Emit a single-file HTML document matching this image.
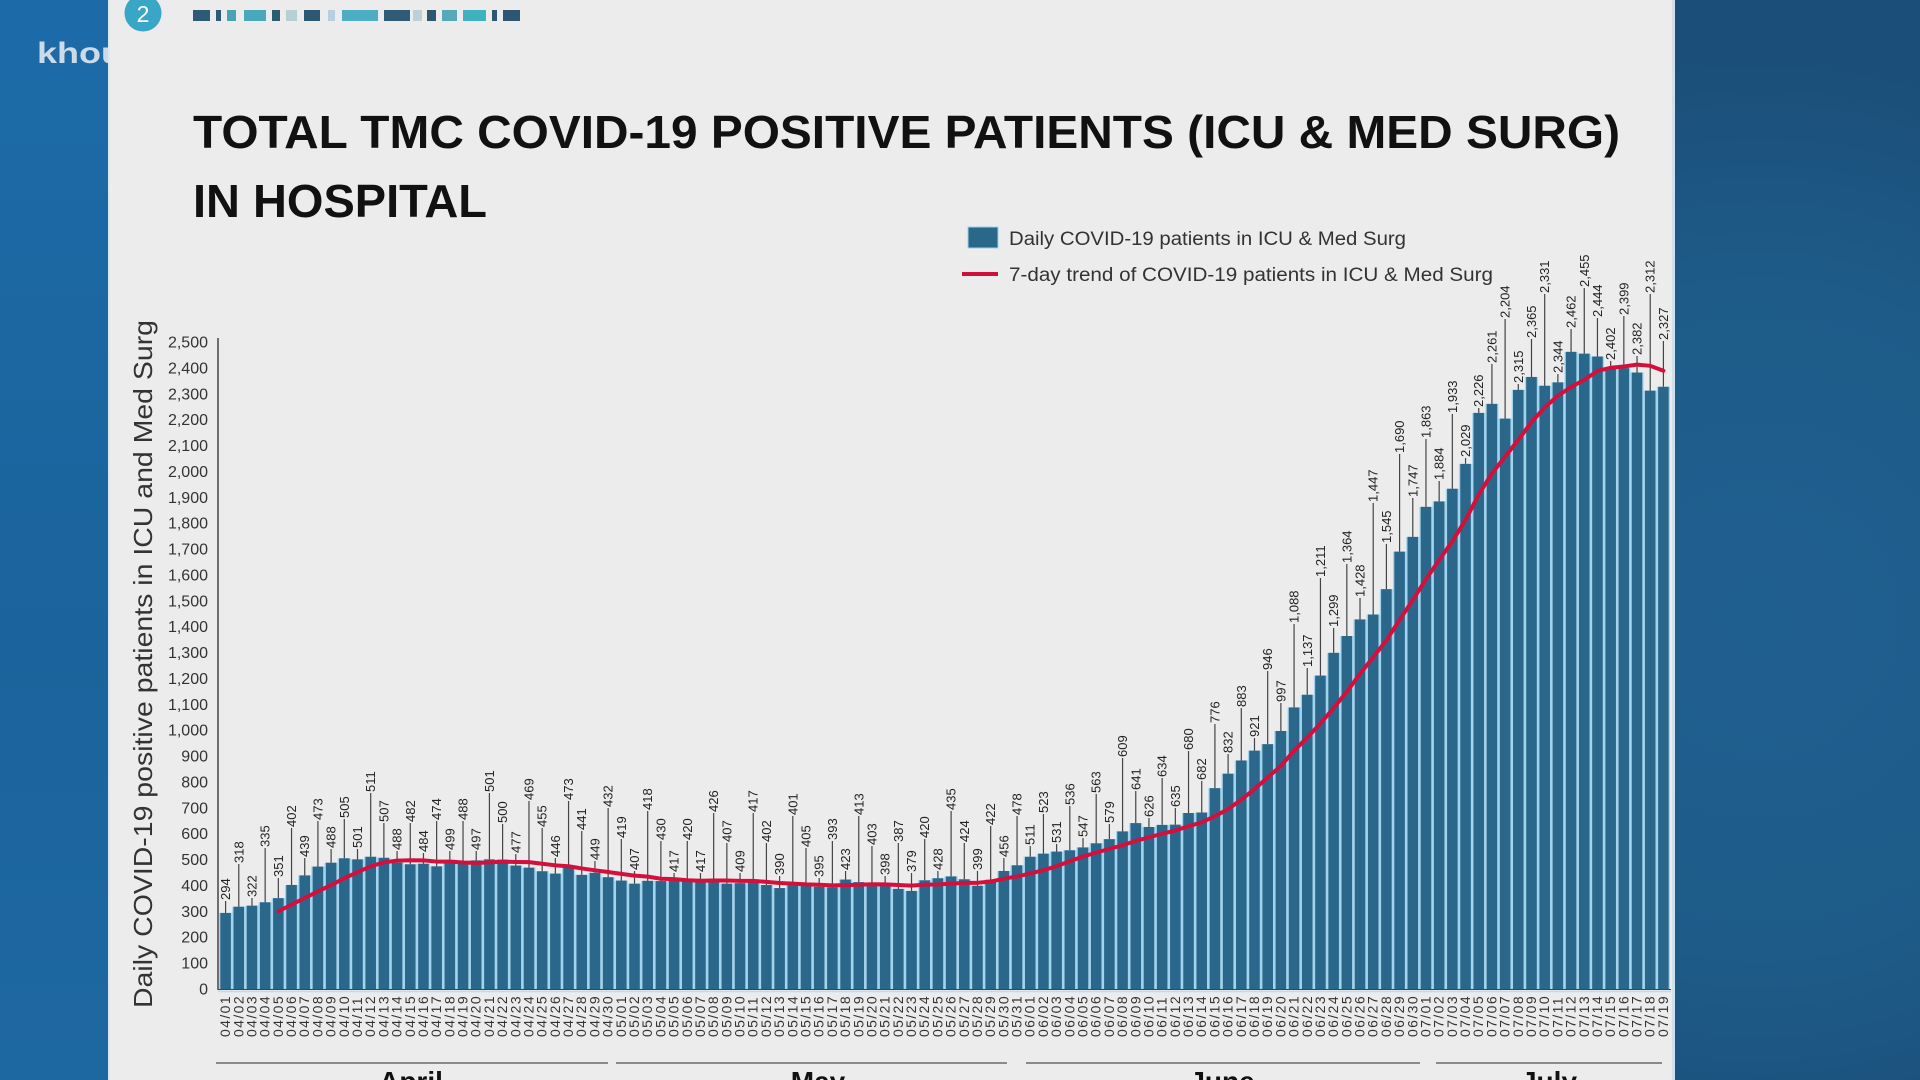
<!DOCTYPE html>
<html>
<head>
<meta charset="utf-8">
<style>
html,body{margin:0;padding:0;width:1920px;height:1080px;overflow:hidden;background:#1c5f94;}
svg{display:block;}
.t{font-family:"Liberation Sans",sans-serif;}
.dl{font-family:"Liberation Sans",sans-serif;font-size:13px;fill:#222;}
.dt{font-family:"Liberation Sans",sans-serif;font-size:14px;letter-spacing:1.4px;fill:#333;}
.yt{font-family:"Liberation Sans",sans-serif;font-size:16px;fill:#333;text-anchor:end;}
</style>
</head>
<body>
<svg width="1920" height="1080" viewBox="0 0 1920 1080" xmlns="http://www.w3.org/2000/svg">
<defs>
<linearGradient id="lg" x1="0" y1="0" x2="0" y2="1">
<stop offset="0" stop-color="#1c6ba8"/>
<stop offset="0.6" stop-color="#1b639c"/>
<stop offset="1" stop-color="#1e68a2"/>
</linearGradient>
<radialGradient id="rg" cx="1760" cy="620" r="560" gradientUnits="userSpaceOnUse">
<stop offset="0" stop-color="#1f5f90"/>
<stop offset="0.6" stop-color="#1e5b89"/>
<stop offset="1" stop-color="#1b4f79"/>
</radialGradient>
</defs>
<rect x="0" y="0" width="110" height="1080" fill="url(#lg)"/>
<rect x="1672" y="0" width="248" height="1080" fill="url(#rg)"/>
<text class="t" x="37" y="63" font-size="30" font-weight="bold" fill="#cddbe8" textLength="86" lengthAdjust="spacingAndGlyphs">khou</text>
<rect x="108" y="0" width="1567" height="1080" fill="#ececec"/>
<rect x="1672" y="0" width="3" height="1080" fill="#cfe1ee"/>
<rect x="108" y="0" width="2" height="1080" fill="#dfe8ef"/>

<!-- badge -->
<circle cx="143" cy="13" r="18.5" fill="#3aa6c7"/>
<text class="t" x="143" y="22" font-size="23" fill="#ffffff" text-anchor="middle">2</text>
<!-- pattern strip -->
<g>
<rect x="193" y="10" width="17" height="11" fill="#2d5a76"/>
<rect x="216" y="10" width="5" height="11" fill="#2d5a76"/>
<rect x="227" y="10" width="9" height="11" fill="#4aa3b3"/>
<rect x="244" y="10" width="22" height="11" fill="#4aa8bc"/>
<rect x="272" y="10" width="8" height="11" fill="#2b5c70"/>
<rect x="286" y="10" width="11" height="11" fill="#b8cdd4"/>
<rect x="304" y="10" width="16" height="11" fill="#2e5675"/>
<rect x="328" y="10" width="7" height="11" fill="#b7d0e0"/>
<rect x="342" y="10" width="36" height="11" fill="#4cadc5"/>
<rect x="384" y="10" width="26" height="11" fill="#2f5a78"/>
<rect x="413" y="10" width="9" height="11" fill="#bcd0d8"/>
<rect x="427" y="10" width="9" height="11" fill="#2d5672"/>
<rect x="442" y="10" width="15" height="11" fill="#57a8b8"/>
<rect x="463" y="10" width="23" height="11" fill="#3fb2c0"/>
<rect x="492" y="10" width="5" height="11" fill="#2d5672"/>
<rect x="503" y="10" width="17" height="11" fill="#2d5672"/>
</g>

<!-- title -->
<text class="t" x="193" y="148" font-size="46" font-weight="bold" fill="#111" textLength="1427" lengthAdjust="spacingAndGlyphs">TOTAL TMC COVID-19 POSITIVE PATIENTS (ICU &amp; MED SURG)</text>
<text class="t" x="193" y="217" font-size="46" font-weight="bold" fill="#111" textLength="294" lengthAdjust="spacingAndGlyphs">IN HOSPITAL</text>

<!-- legend -->
<rect x="968" y="227" width="30" height="21" fill="#2a6889" stroke="#9fd0ea" stroke-width="1"/>
<text class="t" x="1009" y="245" font-size="19" fill="#333" textLength="397" lengthAdjust="spacingAndGlyphs">Daily COVID-19 patients in ICU &amp; Med Surg</text>
<line x1="962" y1="274" x2="998" y2="274" stroke="#d0103a" stroke-width="4"/>
<text class="t" x="1009" y="281" font-size="19" fill="#333" textLength="484" lengthAdjust="spacingAndGlyphs">7-day trend of COVID-19 patients in ICU &amp; Med Surg</text>

<!-- y axis title -->
<text class="t" transform="translate(152,1008) rotate(-90)" font-size="26" fill="#333" textLength="688" lengthAdjust="spacingAndGlyphs">Daily COVID-19 positive patients in ICU and Med Surg</text>

<!-- y tick labels -->
<g>
<text class="yt" x="208" y="994.5">0</text>
<text class="yt" x="208" y="968.6">100</text>
<text class="yt" x="208" y="942.7">200</text>
<text class="yt" x="208" y="916.9">300</text>
<text class="yt" x="208" y="891.0">400</text>
<text class="yt" x="208" y="865.1">500</text>
<text class="yt" x="208" y="839.2">600</text>
<text class="yt" x="208" y="813.3">700</text>
<text class="yt" x="208" y="787.5">800</text>
<text class="yt" x="208" y="761.6">900</text>
<text class="yt" x="208" y="735.7">1,000</text>
<text class="yt" x="208" y="709.8">1,100</text>
<text class="yt" x="208" y="683.9">1,200</text>
<text class="yt" x="208" y="658.1">1,300</text>
<text class="yt" x="208" y="632.2">1,400</text>
<text class="yt" x="208" y="606.3">1,500</text>
<text class="yt" x="208" y="580.4">1,600</text>
<text class="yt" x="208" y="554.5">1,700</text>
<text class="yt" x="208" y="528.7">1,800</text>
<text class="yt" x="208" y="502.8">1,900</text>
<text class="yt" x="208" y="476.9">2,000</text>
<text class="yt" x="208" y="451.0">2,100</text>
<text class="yt" x="208" y="425.1">2,200</text>
<text class="yt" x="208" y="399.3">2,300</text>
<text class="yt" x="208" y="373.4">2,400</text>
<text class="yt" x="208" y="347.5">2,500</text>
</g>
<line x1="218" y1="338" x2="218" y2="990" stroke="#444" stroke-width="1.5"/>

<!-- leader lines -->
<g transform="translate(212.4,0) scale(13.191,1)">
<path fill="none" stroke="#444" stroke-width="1.2" vector-effect="non-scaling-stroke" d="M1 901V989M2 864V989M3 898V989M4 848V989M5 878V989M6 828V989M7 858V989M8 821V989M9 849V989M10 819V989M11 849V989M12 793V989M13 823V989M14 851V989M15 823V989M16 853V989M17 821V989M18 851V989M19 821V989M20 851V989M21 793V989M22 824V989M23 854V989M24 801V989M25 828V989M26 858V989M27 801V989M28 831V989M29 861V989M30 808V989M31 839V989M32 871V989M33 811V989M34 841V989M35 873V989M36 841V989M37 873V989M38 813V989M39 843V989M40 873V989M41 813V989M42 843V989M43 876V989M44 816V989M45 848V989M46 878V989M47 841V989M48 871V989M49 816V989M50 846V989M51 876V989M52 843V989M53 873V989M54 839V989M55 871V989M56 811V989M57 843V989M58 871V989M59 826V989M60 858V989M61 816V989M62 846V989M63 814V989M64 844V989M65 806V989M66 838V989M67 794V989M68 824V989M69 758V989M70 791V989M71 818V989M72 778V989M73 808V989M74 751V989M75 781V989M76 724V989M77 754V989M78 708V989M79 738V989M80 671V989M81 703V989M82 624V989M83 668V989M84 578V989M85 628V989M86 564V989M87 598V989M88 503V989M89 544V989M90 454V989M91 498V989M92 439V989M93 481V989M94 414V989M95 458V989M96 408V989M97 364V989M98 319V989M99 384V989M100 339V989M101 294V989M102 374V989M103 329V989M104 288V989M105 318V989M106 361V989M107 316V989M108 356V989M109 294V989M110 341V989"/>
</g>

<!-- bars -->
<g transform="translate(219,989) scale(13.191,-0.2588)">
<path fill="#a3d4ee" d="M0 0V294H1V318H2V322H3V335H4V351H5V402H6V439H7V473H8V488H9V505H10V501H11V511H12V507H13V488H14V482H15V484H16V474H17V499H18V488H19V497H20V501H21V500H22V477H23V469H24V455H25V446H26V473H27V441H28V449H29V432H30V419H31V407H32V418H33V417H34V430H35V420H36V417H37V426H38V407H39V409H40V417H41V402H42V390H43V401H44V405H45V395H46V393H47V423H48V413H49V403H50V398H51V387H52V379H53V420H54V428H55V435H56V424H57V399H58V422H59V456H60V478H61V511H62V523H63V531H64V536H65V547H66V563H67V579H68V609H69V641H70V626H71V634H72V635H73V680H74V682H75V776H76V832H77V883H78V921H79V946H80V997H81V1088H82V1137H83V1211H84V1299H85V1364H86V1428H87V1447H88V1545H89V1690H90V1747H91V1863H92V1884H93V1933H94V2029H95V2226H96V2261H97V2204H98V2315H99V2365H100V2331H101V2344H102V2462H103V2455H104V2444H105V2402H106V2399H107V2382H108V2312H109V2327H110V0Z"/>
<g fill="#2a678a" transform="translate(0.1,0)">
<rect x="0" width="0.8" height="294"/>
<rect x="1" width="0.8" height="318"/>
<rect x="2" width="0.8" height="322"/>
<rect x="3" width="0.8" height="335"/>
<rect x="4" width="0.8" height="351"/>
<rect x="5" width="0.8" height="402"/>
<rect x="6" width="0.8" height="439"/>
<rect x="7" width="0.8" height="473"/>
<rect x="8" width="0.8" height="488"/>
<rect x="9" width="0.8" height="505"/>
<rect x="10" width="0.8" height="501"/>
<rect x="11" width="0.8" height="511"/>
<rect x="12" width="0.8" height="507"/>
<rect x="13" width="0.8" height="488"/>
<rect x="14" width="0.8" height="482"/>
<rect x="15" width="0.8" height="484"/>
<rect x="16" width="0.8" height="474"/>
<rect x="17" width="0.8" height="499"/>
<rect x="18" width="0.8" height="488"/>
<rect x="19" width="0.8" height="497"/>
<rect x="20" width="0.8" height="501"/>
<rect x="21" width="0.8" height="500"/>
<rect x="22" width="0.8" height="477"/>
<rect x="23" width="0.8" height="469"/>
<rect x="24" width="0.8" height="455"/>
<rect x="25" width="0.8" height="446"/>
<rect x="26" width="0.8" height="473"/>
<rect x="27" width="0.8" height="441"/>
<rect x="28" width="0.8" height="449"/>
<rect x="29" width="0.8" height="432"/>
<rect x="30" width="0.8" height="419"/>
<rect x="31" width="0.8" height="407"/>
<rect x="32" width="0.8" height="418"/>
<rect x="33" width="0.8" height="417"/>
<rect x="34" width="0.8" height="430"/>
<rect x="35" width="0.8" height="420"/>
<rect x="36" width="0.8" height="417"/>
<rect x="37" width="0.8" height="426"/>
<rect x="38" width="0.8" height="407"/>
<rect x="39" width="0.8" height="409"/>
<rect x="40" width="0.8" height="417"/>
<rect x="41" width="0.8" height="402"/>
<rect x="42" width="0.8" height="390"/>
<rect x="43" width="0.8" height="401"/>
<rect x="44" width="0.8" height="405"/>
<rect x="45" width="0.8" height="395"/>
<rect x="46" width="0.8" height="393"/>
<rect x="47" width="0.8" height="423"/>
<rect x="48" width="0.8" height="413"/>
<rect x="49" width="0.8" height="403"/>
<rect x="50" width="0.8" height="398"/>
<rect x="51" width="0.8" height="387"/>
<rect x="52" width="0.8" height="379"/>
<rect x="53" width="0.8" height="420"/>
<rect x="54" width="0.8" height="428"/>
<rect x="55" width="0.8" height="435"/>
<rect x="56" width="0.8" height="424"/>
<rect x="57" width="0.8" height="399"/>
<rect x="58" width="0.8" height="422"/>
<rect x="59" width="0.8" height="456"/>
<rect x="60" width="0.8" height="478"/>
<rect x="61" width="0.8" height="511"/>
<rect x="62" width="0.8" height="523"/>
<rect x="63" width="0.8" height="531"/>
<rect x="64" width="0.8" height="536"/>
<rect x="65" width="0.8" height="547"/>
<rect x="66" width="0.8" height="563"/>
<rect x="67" width="0.8" height="579"/>
<rect x="68" width="0.8" height="609"/>
<rect x="69" width="0.8" height="641"/>
<rect x="70" width="0.8" height="626"/>
<rect x="71" width="0.8" height="634"/>
<rect x="72" width="0.8" height="635"/>
<rect x="73" width="0.8" height="680"/>
<rect x="74" width="0.8" height="682"/>
<rect x="75" width="0.8" height="776"/>
<rect x="76" width="0.8" height="832"/>
<rect x="77" width="0.8" height="883"/>
<rect x="78" width="0.8" height="921"/>
<rect x="79" width="0.8" height="946"/>
<rect x="80" width="0.8" height="997"/>
<rect x="81" width="0.8" height="1088"/>
<rect x="82" width="0.8" height="1137"/>
<rect x="83" width="0.8" height="1211"/>
<rect x="84" width="0.8" height="1299"/>
<rect x="85" width="0.8" height="1364"/>
<rect x="86" width="0.8" height="1428"/>
<rect x="87" width="0.8" height="1447"/>
<rect x="88" width="0.8" height="1545"/>
<rect x="89" width="0.8" height="1690"/>
<rect x="90" width="0.8" height="1747"/>
<rect x="91" width="0.8" height="1863"/>
<rect x="92" width="0.8" height="1884"/>
<rect x="93" width="0.8" height="1933"/>
<rect x="94" width="0.8" height="2029"/>
<rect x="95" width="0.8" height="2226"/>
<rect x="96" width="0.8" height="2261"/>
<rect x="97" width="0.8" height="2204"/>
<rect x="98" width="0.8" height="2315"/>
<rect x="99" width="0.8" height="2365"/>
<rect x="100" width="0.8" height="2331"/>
<rect x="101" width="0.8" height="2344"/>
<rect x="102" width="0.8" height="2462"/>
<rect x="103" width="0.8" height="2455"/>
<rect x="104" width="0.8" height="2444"/>
<rect x="105" width="0.8" height="2402"/>
<rect x="106" width="0.8" height="2399"/>
<rect x="107" width="0.8" height="2382"/>
<rect x="108" width="0.8" height="2312"/>
<rect x="109" width="0.8" height="2327"/>
</g>
<polyline fill="none" stroke="#d40f3c" stroke-width="4" stroke-linejoin="round" stroke-linecap="round" vector-effect="non-scaling-stroke" points="4.5,300 5.5,326 6.5,351.6 7.5,377.1 8.5,401.4 9.5,427.6 10.5,451.3 11.5,474.1 12.5,489.1 13.5,496.1 14.5,497.4 15.5,496.9 16.5,492.4 17.5,492.1 18.5,488.9 19.5,487.4 20.5,489.3 21.5,491.9 22.5,490.9 23.5,490.1 24.5,483.9 25.5,477.9 26.5,474.4 27.5,465.9 28.5,458.6 29.5,452.1 30.5,445 31.5,438.1 32.5,434.1 33.5,426.1 34.5,424.6 35.5,420.4 36.5,418.3 37.5,419.3 38.5,419.3 39.5,418 40.5,418 41.5,414 42.5,409.7 43.5,407.4 44.5,404.4 45.5,402.7 46.5,400.4 47.5,401.3 48.5,402.9 49.5,404.7 50.5,404.3 51.5,401.7 52.5,399.4 53.5,403.3 54.5,404 55.5,407.1 56.5,410.1 57.5,410.3 58.5,415.3 59.5,426.3 60.5,434.6 61.5,446.4 62.5,459 63.5,474.3 64.5,493.9 65.5,511.7 66.5,527 67.5,541.4 68.5,555.4 69.5,572.3 70.5,585.9 71.5,599.9 72.5,612.4 73.5,629.1 74.5,643.9 75.5,667.7 76.5,695 77.5,731.7 78.5,772.7 79.5,817.1 80.5,862.4 81.5,920.4 82.5,972 83.5,1026.1 84.5,1085.6 85.5,1148.9 86.5,1217.7 87.5,1282 88.5,1347.3 89.5,1426.3 90.5,1502.9 91.5,1583.4 92.5,1657.7 93.5,1729.9 94.5,1813 95.5,1910.3 96.5,1991.9 97.5,2057.1 98.5,2121.7 99.5,2190.4 100.5,2247.3 101.5,2292.3 102.5,2326 103.5,2353.7 104.5,2388 105.5,2400.4 106.5,2405.3 107.5,2412.6 108.5,2408 109.5,2388.7"/>
</g>
<line x1="218" y1="989.5" x2="1671" y2="989.5" stroke="#1d4f6a" stroke-width="1"/>
<line x1="218" y1="991.5" x2="1671" y2="991.5" stroke="#b9dcef" stroke-width="1.5"/>

<!-- data labels -->
<g transform="rotate(-90)" class="dl">
<text x="-900" y="230.1">294</text>
<text x="-863" y="243.3">318</text>
<text x="-897" y="256.5">322</text>
<text x="-847" y="269.7">335</text>
<text x="-877" y="282.9">351</text>
<text x="-827" y="296.0">402</text>
<text x="-857" y="309.2">439</text>
<text x="-820" y="322.4">473</text>
<text x="-848" y="335.6">488</text>
<text x="-818" y="348.8">505</text>
<text x="-848" y="362.0">501</text>
<text x="-792" y="375.2">511</text>
<text x="-822" y="388.4">507</text>
<text x="-850" y="401.6">488</text>
<text x="-822" y="414.8">482</text>
<text x="-852" y="428.0">484</text>
<text x="-820" y="441.1">474</text>
<text x="-850" y="454.3">499</text>
<text x="-820" y="467.5">488</text>
<text x="-850" y="480.7">497</text>
<text x="-792" y="493.9">501</text>
<text x="-823" y="507.1">500</text>
<text x="-853" y="520.3">477</text>
<text x="-800" y="533.5">469</text>
<text x="-827" y="546.7">455</text>
<text x="-857" y="559.9">446</text>
<text x="-800" y="573.1">473</text>
<text x="-830" y="586.2">441</text>
<text x="-860" y="599.4">449</text>
<text x="-807" y="612.6">432</text>
<text x="-838" y="625.8">419</text>
<text x="-870" y="639.0">407</text>
<text x="-810" y="652.2">418</text>
<text x="-840" y="665.4">430</text>
<text x="-872" y="678.6">417</text>
<text x="-840" y="691.8">420</text>
<text x="-872" y="705.0">417</text>
<text x="-812" y="718.2">426</text>
<text x="-842" y="731.4">407</text>
<text x="-872" y="744.5">409</text>
<text x="-812" y="757.7">417</text>
<text x="-842" y="770.9">402</text>
<text x="-875" y="784.1">390</text>
<text x="-815" y="797.3">401</text>
<text x="-847" y="810.5">405</text>
<text x="-877" y="823.7">395</text>
<text x="-840" y="836.9">393</text>
<text x="-870" y="850.1">423</text>
<text x="-815" y="863.3">413</text>
<text x="-845" y="876.5">403</text>
<text x="-875" y="889.6">398</text>
<text x="-842" y="902.8">387</text>
<text x="-872" y="916.0">379</text>
<text x="-838" y="929.2">420</text>
<text x="-870" y="942.4">428</text>
<text x="-810" y="955.6">435</text>
<text x="-842" y="968.8">424</text>
<text x="-870" y="982.0">399</text>
<text x="-825" y="995.2">422</text>
<text x="-857" y="1008.4">456</text>
<text x="-815" y="1021.6">478</text>
<text x="-845" y="1034.7">511</text>
<text x="-813" y="1047.9">523</text>
<text x="-843" y="1061.1">531</text>
<text x="-805" y="1074.3">536</text>
<text x="-837" y="1087.5">547</text>
<text x="-793" y="1100.7">563</text>
<text x="-823" y="1113.9">579</text>
<text x="-757" y="1127.1">609</text>
<text x="-790" y="1140.3">641</text>
<text x="-817" y="1153.5">626</text>
<text x="-777" y="1166.7">634</text>
<text x="-807" y="1179.8">635</text>
<text x="-750" y="1193.0">680</text>
<text x="-780" y="1206.2">682</text>
<text x="-723" y="1219.4">776</text>
<text x="-753" y="1232.6">832</text>
<text x="-707" y="1245.8">883</text>
<text x="-737" y="1259.0">921</text>
<text x="-670" y="1272.2">946</text>
<text x="-702" y="1285.4">997</text>
<text x="-623" y="1298.6">1,088</text>
<text x="-667" y="1311.8">1,137</text>
<text x="-577" y="1324.9">1,211</text>
<text x="-627" y="1338.1">1,299</text>
<text x="-563" y="1351.3">1,364</text>
<text x="-597" y="1364.5">1,428</text>
<text x="-502" y="1377.7">1,447</text>
<text x="-543" y="1390.9">1,545</text>
<text x="-453" y="1404.1">1,690</text>
<text x="-497" y="1417.3">1,747</text>
<text x="-438" y="1430.5">1,863</text>
<text x="-480" y="1443.7">1,884</text>
<text x="-413" y="1456.9">1,933</text>
<text x="-457" y="1470.0">2,029</text>
<text x="-407" y="1483.2">2,226</text>
<text x="-363" y="1496.4">2,261</text>
<text x="-318" y="1509.6">2,204</text>
<text x="-383" y="1522.8">2,315</text>
<text x="-338" y="1536.0">2,365</text>
<text x="-293" y="1549.2">2,331</text>
<text x="-373" y="1562.4">2,344</text>
<text x="-328" y="1575.6">2,462</text>
<text x="-287" y="1588.8">2,455</text>
<text x="-317" y="1602.0">2,444</text>
<text x="-360" y="1615.1">2,402</text>
<text x="-315" y="1628.3">2,399</text>
<text x="-355" y="1641.5">2,382</text>
<text x="-293" y="1654.7">2,312</text>
<text x="-340" y="1667.9">2,327</text>
</g>

<!-- date labels -->
<g transform="rotate(-90)" class="dt">
<text x="-1037" y="230.1">04/01</text>
<text x="-1037" y="243.3">04/02</text>
<text x="-1037" y="256.5">04/03</text>
<text x="-1037" y="269.7">04/04</text>
<text x="-1037" y="282.9">04/05</text>
<text x="-1037" y="296.0">04/06</text>
<text x="-1037" y="309.2">04/07</text>
<text x="-1037" y="322.4">04/08</text>
<text x="-1037" y="335.6">04/09</text>
<text x="-1037" y="348.8">04/10</text>
<text x="-1037" y="362.0">04/11</text>
<text x="-1037" y="375.2">04/12</text>
<text x="-1037" y="388.4">04/13</text>
<text x="-1037" y="401.6">04/14</text>
<text x="-1037" y="414.8">04/15</text>
<text x="-1037" y="428.0">04/16</text>
<text x="-1037" y="441.1">04/17</text>
<text x="-1037" y="454.3">04/18</text>
<text x="-1037" y="467.5">04/19</text>
<text x="-1037" y="480.7">04/20</text>
<text x="-1037" y="493.9">04/21</text>
<text x="-1037" y="507.1">04/22</text>
<text x="-1037" y="520.3">04/23</text>
<text x="-1037" y="533.5">04/24</text>
<text x="-1037" y="546.7">04/25</text>
<text x="-1037" y="559.9">04/26</text>
<text x="-1037" y="573.1">04/27</text>
<text x="-1037" y="586.2">04/28</text>
<text x="-1037" y="599.4">04/29</text>
<text x="-1037" y="612.6">04/30</text>
<text x="-1037" y="625.8">05/01</text>
<text x="-1037" y="639.0">05/02</text>
<text x="-1037" y="652.2">05/03</text>
<text x="-1037" y="665.4">05/04</text>
<text x="-1037" y="678.6">05/05</text>
<text x="-1037" y="691.8">05/06</text>
<text x="-1037" y="705.0">05/07</text>
<text x="-1037" y="718.2">05/08</text>
<text x="-1037" y="731.4">05/09</text>
<text x="-1037" y="744.5">05/10</text>
<text x="-1037" y="757.7">05/11</text>
<text x="-1037" y="770.9">05/12</text>
<text x="-1037" y="784.1">05/13</text>
<text x="-1037" y="797.3">05/14</text>
<text x="-1037" y="810.5">05/15</text>
<text x="-1037" y="823.7">05/16</text>
<text x="-1037" y="836.9">05/17</text>
<text x="-1037" y="850.1">05/18</text>
<text x="-1037" y="863.3">05/19</text>
<text x="-1037" y="876.5">05/20</text>
<text x="-1037" y="889.6">05/21</text>
<text x="-1037" y="902.8">05/22</text>
<text x="-1037" y="916.0">05/23</text>
<text x="-1037" y="929.2">05/24</text>
<text x="-1037" y="942.4">05/25</text>
<text x="-1037" y="955.6">05/26</text>
<text x="-1037" y="968.8">05/27</text>
<text x="-1037" y="982.0">05/28</text>
<text x="-1037" y="995.2">05/29</text>
<text x="-1037" y="1008.4">05/30</text>
<text x="-1037" y="1021.6">05/31</text>
<text x="-1037" y="1034.7">06/01</text>
<text x="-1037" y="1047.9">06/02</text>
<text x="-1037" y="1061.1">06/03</text>
<text x="-1037" y="1074.3">06/04</text>
<text x="-1037" y="1087.5">06/05</text>
<text x="-1037" y="1100.7">06/06</text>
<text x="-1037" y="1113.9">06/07</text>
<text x="-1037" y="1127.1">06/08</text>
<text x="-1037" y="1140.3">06/09</text>
<text x="-1037" y="1153.5">06/10</text>
<text x="-1037" y="1166.7">06/11</text>
<text x="-1037" y="1179.8">06/12</text>
<text x="-1037" y="1193.0">06/13</text>
<text x="-1037" y="1206.2">06/14</text>
<text x="-1037" y="1219.4">06/15</text>
<text x="-1037" y="1232.6">06/16</text>
<text x="-1037" y="1245.8">06/17</text>
<text x="-1037" y="1259.0">06/18</text>
<text x="-1037" y="1272.2">06/19</text>
<text x="-1037" y="1285.4">06/20</text>
<text x="-1037" y="1298.6">06/21</text>
<text x="-1037" y="1311.8">06/22</text>
<text x="-1037" y="1324.9">06/23</text>
<text x="-1037" y="1338.1">06/24</text>
<text x="-1037" y="1351.3">06/25</text>
<text x="-1037" y="1364.5">06/26</text>
<text x="-1037" y="1377.7">06/27</text>
<text x="-1037" y="1390.9">06/28</text>
<text x="-1037" y="1404.1">06/29</text>
<text x="-1037" y="1417.3">06/30</text>
<text x="-1037" y="1430.5">07/01</text>
<text x="-1037" y="1443.7">07/02</text>
<text x="-1037" y="1456.9">07/03</text>
<text x="-1037" y="1470.0">07/04</text>
<text x="-1037" y="1483.2">07/05</text>
<text x="-1037" y="1496.4">07/06</text>
<text x="-1037" y="1509.6">07/07</text>
<text x="-1037" y="1522.8">07/08</text>
<text x="-1037" y="1536.0">07/09</text>
<text x="-1037" y="1549.2">07/10</text>
<text x="-1037" y="1562.4">07/11</text>
<text x="-1037" y="1575.6">07/12</text>
<text x="-1037" y="1588.8">07/13</text>
<text x="-1037" y="1602.0">07/14</text>
<text x="-1037" y="1615.1">07/15</text>
<text x="-1037" y="1628.3">07/16</text>
<text x="-1037" y="1641.5">07/17</text>
<text x="-1037" y="1654.7">07/18</text>
<text x="-1037" y="1667.9">07/19</text>
</g>

<!-- month separators -->
<g stroke="#8a8a8a" stroke-width="2">
<line x1="216" y1="1063" x2="608" y2="1063"/>
<line x1="616" y1="1063" x2="1007" y2="1063"/>
<line x1="1026" y1="1063" x2="1420" y2="1063"/>
<line x1="1436" y1="1063" x2="1662" y2="1063"/>
</g>
<g class="t" font-size="28" font-weight="bold" fill="#111" text-anchor="middle">
<text x="411" y="1091">April</text>
<text x="818" y="1091">May</text>
<text x="1222" y="1091">June</text>
<text x="1549" y="1091">July</text>
</g>
</svg>
</body>
</html>
